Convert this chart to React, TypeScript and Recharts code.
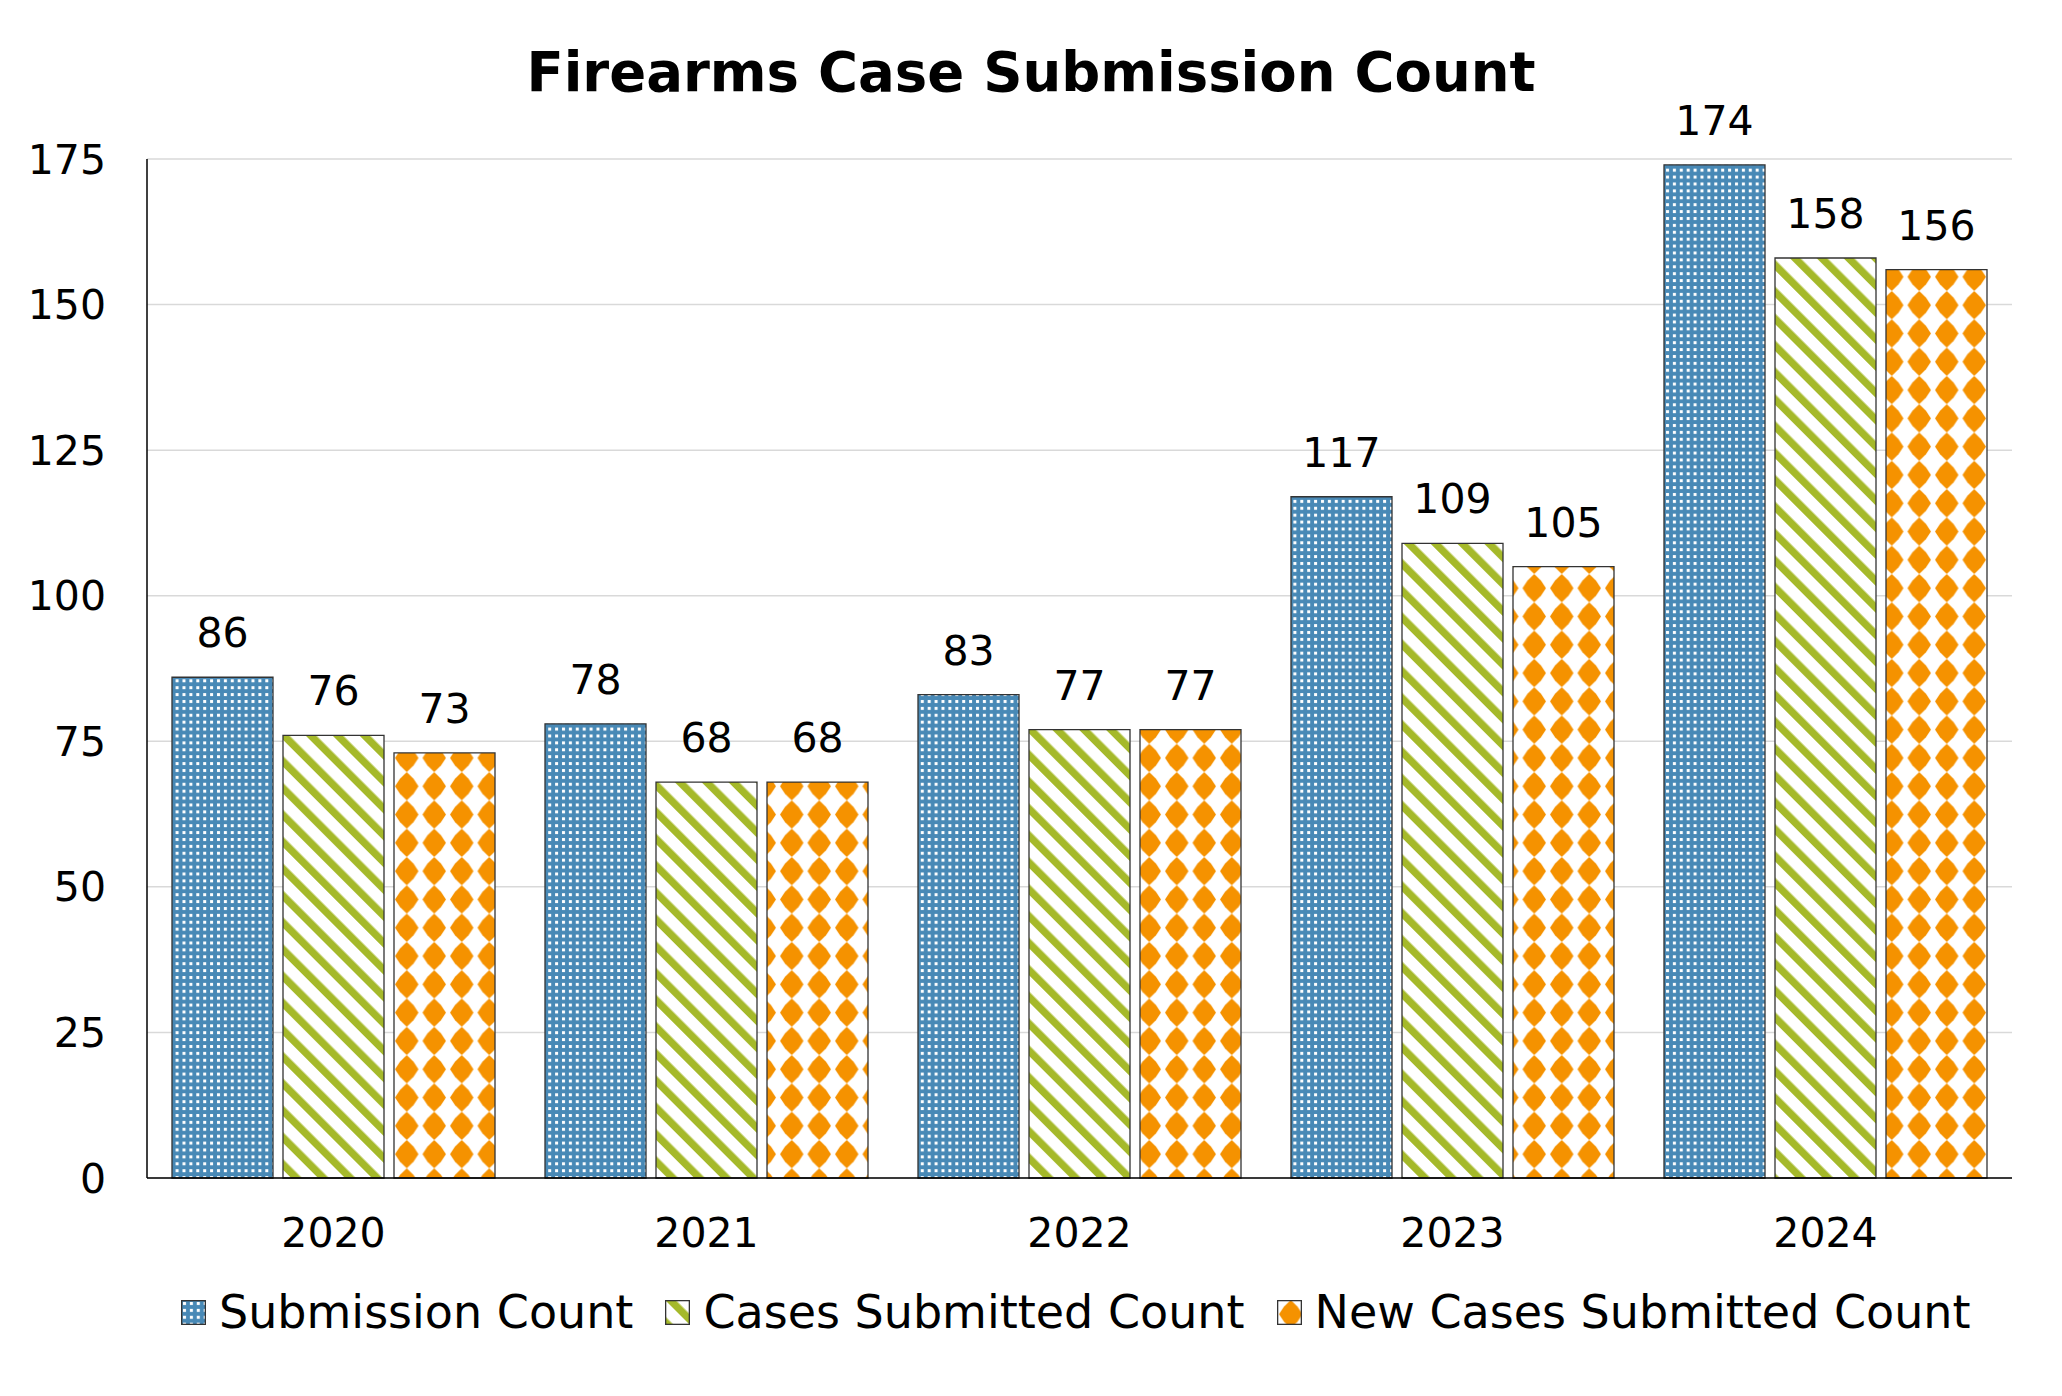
import React from 'react';
import { BarChart, Bar, XAxis, YAxis, CartesianGrid, LabelList } from 'recharts';

const years = ['2020', '2021', '2022', '2023', '2024'];
const submissionCount = [86, 78, 83, 117, 174];
const casesSubmitted = [76, 68, 77, 109, 158];
const newCasesSubmitted = [73, 68, 77, 105, 156];
const yTicks = [0, 25, 50, 75, 100, 125, 150, 175];

const FONT = '"DejaVu Sans", Verdana, sans-serif';
const BLUE = '#4889b6';
const GREEN = '#a5b92a';
const ORANGE = '#f59200';

const data = years.map((year, i) => ({
  year,
  submission: submissionCount[i],
  cases: casesSubmitted[i],
  newCases: newCasesSubmitted[i],
}));

// pattern fills, suffix keeps ids unique between chart and legend icons
const Patterns = ({ suffix }: { suffix: string }) => (
  <defs>
    <pattern id={'dots' + suffix} width={6.9} height={6.9} patternUnits="userSpaceOnUse">
      <rect width={6.9} height={6.9} fill={BLUE} />
      <rect x={2} y={2} width={3} height={3} fill="#fff" />
    </pattern>
    <pattern id={'stripes' + suffix} width={19} height={10} patternUnits="userSpaceOnUse" patternTransform="rotate(-45)">
      <rect width={19} height={10} fill="#fff" />
      <rect width={7.5} height={10} fill={GREEN} />
    </pattern>
    <pattern id={'diamonds' + suffix} width={27.5} height={28.3} patternUnits="userSpaceOnUse">
      <rect width={27.5} height={28.3} fill="#fff" />
      <polygon
        points="13.75,0 20.5,6.5 25.5,14.15 20.5,21.8 13.75,28.3 7,21.8 2,14.15 7,6.5"
        fill={ORANGE}
      />
    </pattern>
  </defs>
);

const series = [
  { key: 'submission', name: 'Submission Count', fill: 'dots' },
  { key: 'cases', name: 'Cases Submitted Count', fill: 'stripes' },
  { key: 'newCases', name: 'New Cases Submitted Count', fill: 'diamonds' },
];

export default function App() {
  return (
    <div style={{ position: 'relative', width: 2046, height: 1380, fontFamily: FONT }}>
      <div
        style={{
          position: 'absolute',
          top: 36,
          left: 0,
          width: 2046,
          textAlign: 'center',
          fontSize: 54.5,
          lineHeight: '56px',
          fontWeight: 'bold',
        }}
      >
        Firearms Case Submission Count
      </div>
      <BarChart
        width={2046}
        height={1380}
        data={data}
        margin={{ top: 151, right: 42, left: 0, bottom: 130 }}
        barCategoryGap={25}
        barGap={10}
      >
        <Patterns suffix="" />
        <CartesianGrid vertical={false} stroke="#d9d9d9" strokeWidth={1.5} />
        <XAxis
          dataKey="year"
          height={80}
          tickLine={false}
          tickSize={0}
          tickMargin={40}
          axisLine={{ stroke: '#000', strokeWidth: 1.5 }}
          tick={{ fill: '#000', fontSize: 41, fontFamily: FONT }}
        />
        <YAxis
          width={139}
          domain={[0, 175]}
          ticks={yTicks}
          tickLine={false}
          tickSize={0}
          tickMargin={41}
          axisLine={{ stroke: '#000', strokeWidth: 1.5 }}
          tick={{ fill: '#000', fontSize: 41, fontFamily: FONT }}
        />
        {series.map((s) => (
          <Bar
            key={s.key}
            dataKey={s.key}
            name={s.name}
            fill={`url(#${s.fill})`}
            stroke="#333"
            strokeWidth={1.3}
            isAnimationActive={false}
          >
            <LabelList
              dataKey={s.key}
              position="top"
              offset={30}
              fill="#000"
              fontSize={41}
              fontFamily={FONT}
            />
          </Bar>
        ))}
      </BarChart>
      <div
        style={{
          position: 'absolute',
          top: 1281,
          left: 173,
          display: 'flex',
          alignItems: 'center',
          fontSize: 46,
          lineHeight: '46px',
          whiteSpace: 'nowrap',
        }}
      >
        {series.map((s, i) => (
          <div key={s.key} style={{ display: 'flex', alignItems: 'center', marginRight: i < series.length - 1 ? 32 : 0 }}>
            <svg width={25} height={25} style={{ marginRight: 13 }}>
              <Patterns suffix={'-lg' + i} />
              <rect x={0.65} y={0.65} width={23.7} height={23.7} fill={`url(#${s.fill}-lg${i})`} stroke="#333" strokeWidth={1.3} />
            </svg>
            <span>{s.name}</span>
          </div>
        ))}
      </div>
    </div>
  );
}
